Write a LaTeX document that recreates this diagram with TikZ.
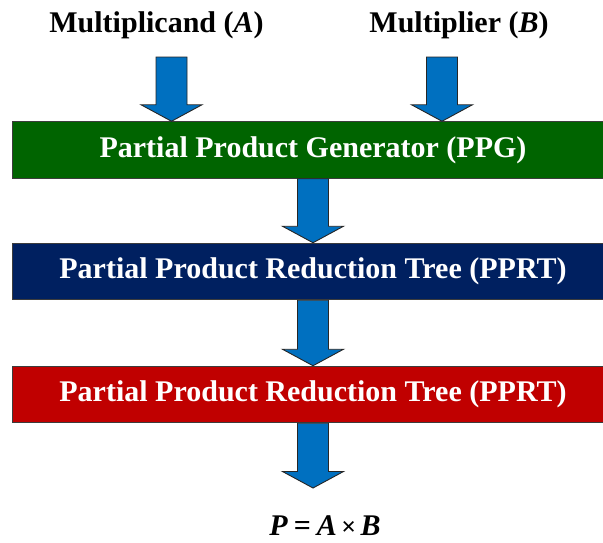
\documentclass[tikz,border=0pt]{standalone}
\usepackage{fontspec}
\setmainfont{Liberation Serif}
\usetikzlibrary{calc}
\definecolor{ppggreen}{RGB}{0,100,0}
\definecolor{pprtnavy}{RGB}{0,32,96}
\definecolor{pprtred}{RGB}{192,0,0}
\definecolor{arrowblue}{RGB}{0,112,192}
\definecolor{edgegray}{RGB}{60,60,60}
\newcommand{\blockarrow}[2]{%
  \path[blockarrowstyle] let \p1=(#1), \p2=(#2) in
    (\x1-15.5pt,\y1) -- (\x1+15.5pt,\y1) -- (\x1+15.5pt,\y2+16.5pt) --
    (\x1+30.5pt,\y2+16.5pt) -- (\x1,\y2) -- (\x1-30.5pt,\y2+16.5pt) --
    (\x1-15.5pt,\y2+16.5pt) -- cycle;}
\begin{document}
\begin{tikzpicture}[x=1pt,y=-1pt,
  blockarrowstyle/.style={fill=arrowblue,draw=black!85,line width=0.9pt,line join=miter},
  stagebox/.style={draw=edgegray,line width=1pt,minimum width=602pt,minimum height=56.5pt,
    inner sep=0pt,text=white,font=\fontsize{30}{36}\selectfont\bfseries},
  toplabel/.style={anchor=base,inner sep=0pt,font=\fontsize{30}{36}\selectfont\bfseries}]
\useasboundingbox (0,0) rectangle (603,542);
\node[toplabel] (lblA) at (156.5,32) {Multiplicand (\textit{A})};
\node[toplabel] (lblB) at (459,32) {Multiplier (\textit{B})};
\node[stagebox,fill=ppggreen] (ppg) at (313,150) {Partial Product Generator (PPG)};
\node[stagebox,fill=pprtnavy] (pprt1) at (313,271.5) {Partial Product Reduction Tree (PPRT)};
\node[stagebox,fill=pprtred] (pprt2) at (313,394.5) {Partial Product Reduction Tree (PPRT)};
\node[toplabel] (prod) at (325,535) {\textit{P}\hspace{0.2em}=\hspace{0.2em}\textit{A}\hspace{0.15em}{\fontsize{26}{30}\selectfont ×}\hspace{0.15em}\textit{B}};
\coordinate (a1) at (171.5,57);
\coordinate (a2) at (442,57);
\coordinate (outtip) at (314,488);
\blockarrow{a1}{ppg.north -| a1}
\blockarrow{a2}{ppg.north -| a2}
\blockarrow{ppg.south}{pprt1.north}
\blockarrow{pprt1.south}{pprt2.north}
\blockarrow{pprt2.south}{outtip}
\end{tikzpicture}
\end{document}
